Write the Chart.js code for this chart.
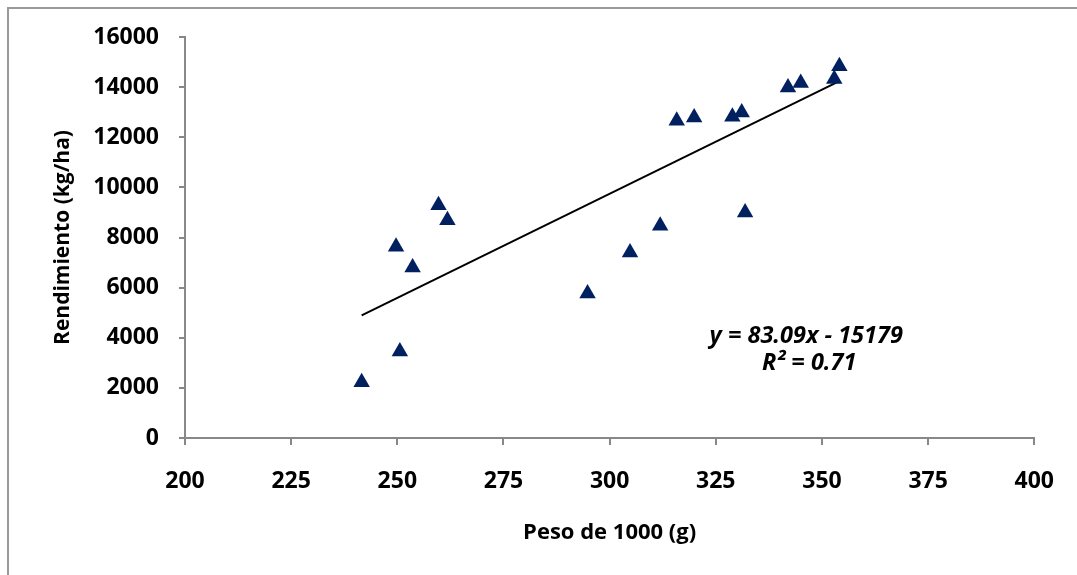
<!DOCTYPE html>
<html>
<head>
<meta charset="utf-8">
<script src="https://cdn.jsdelivr.net/npm/chart.js@4.4.1/dist/chart.umd.min.js"></script>
<style>
html,body{margin:0;padding:0;background:#fff;}
#wrap{width:1077px;height:575px;position:relative;}
</style>
</head>
<body>
<div id="wrap"><canvas id="c" width="1077" height="575"></canvas></div>
<script>
// Data
const pesoX = [241.6, 250.6, 249.7, 253.6, 259.7, 261.8, 294.8, 304.8, 311.9, 315.8, 319.9, 328.9, 331.1, 331.9, 342.0, 345.0, 352.9, 354.1];
const rendimientoY = [2220, 3450, 7630, 6800, 9290, 8690, 5770, 7400, 8470, 12660, 12790, 12820, 12990, 9000, 13990, 14160, 14320, 14830];
const trendSlope = 83.09;
const trendIntercept = -15179;
const equationLines = ["y = 83.09x - 15179", "R² = 0.71"];
const xTitle = "Peso de 1000 (g)";
const yTitle = "Rendimiento (kg/ha)";

const points = pesoX.map((x, i) => ({x: x, y: rendimientoY[i]}));
const xMin = Math.min(...pesoX), xMax = Math.max(...pesoX);
const trendPoints = [xMin, xMax].map(x => ({x: x, y: trendSlope * x + trendIntercept}));

const FONT = "'Open Sans', 'Liberation Sans', sans-serif";

const framePlugin = {
  id: 'frame',
  beforeDraw(chart) {
    const ctx = chart.ctx;
    ctx.save();
    ctx.fillStyle = '#fff';
    ctx.fillRect(0, 0, chart.width, chart.height);
    ctx.strokeStyle = '#999';
    ctx.lineWidth = 2;
    ctx.beginPath();
    ctx.moveTo(8, chart.height);
    ctx.lineTo(8, 8);
    ctx.lineTo(chart.width, 8);
    ctx.stroke();
    ctx.restore();
  },
  afterDraw(chart) {
    const ctx = chart.ctx;
    const xs = chart.scales.x, ys = chart.scales.y;
    ctx.save();
    ctx.fillStyle = '#000';
    ctx.font = "italic bold 23.5px " + FONT;
    ctx.textAlign = 'center';
    ctx.textBaseline = 'middle';
    const cx = xs.getPixelForValue(346.3);
    ctx.fillText(equationLines[0], cx, ys.getPixelForValue(4040));
    ctx.fillText(equationLines[1], cx + 3, ys.getPixelForValue(3000));
    ctx.restore();
  }
};

new Chart(document.getElementById('c'), {
  type: 'scatter',
  data: {
    datasets: [
      {
        label: 'Rendimiento',
        data: points,
        pointStyle: 'triangle',
        pointRadius: 9.5,
        pointHoverRadius: 9.5,
        backgroundColor: '#002060',
        borderColor: '#002060',
        borderWidth: 0,
        order: 1
      },
      {
        label: 'Tendencia',
        type: 'line',
        data: trendPoints,
        borderColor: '#000',
        borderWidth: 2,
        pointRadius: 0,
        fill: false,
        order: 2
      }
    ]
  },
  options: {
    responsive: false,
    animation: false,
    devicePixelRatio: 1,
    layout: {padding: {left: 0, top: 37, right: 41, bottom: 0}},
    plugins: {legend: {display: false}, tooltip: {enabled: false}},
    scales: {
      x: {
        type: 'linear',
        min: 200, max: 400,
        afterFit(s) { s.height = 137; },
        ticks: {stepSize: 25, color: '#000', padding: 23, callback: v => String(v), font: {family: FONT, size: 23, weight: 'bold'}},
        grid: {drawOnChartArea: false, drawTicks: true, tickLength: 7, color: '#888', lineWidth: 2},
        border: {color: '#888', width: 2},
        title: {display: true, text: xTitle, color: '#000', padding: {top: 0, bottom: 29}, font: {family: FONT, size: 22, weight: 'bold'}}
      },
      y: {
        type: 'linear',
        min: 0, max: 16000,
        afterFit(s) { s.width = 185; },
        ticks: {stepSize: 2000, color: '#000', padding: 20, callback: v => String(v), font: {family: FONT, size: 23, weight: 'bold'}},
        grid: {drawOnChartArea: false, drawTicks: true, tickLength: 6, color: '#888', lineWidth: 2},
        border: {color: '#888', width: 2},
        title: {display: true, text: yTitle, color: '#000', padding: {top: 50, bottom: 0}, font: {family: FONT, size: 21, weight: 'bold'}}
      }
    }
  },
  plugins: [framePlugin]
});
</script>
</body>
</html>
